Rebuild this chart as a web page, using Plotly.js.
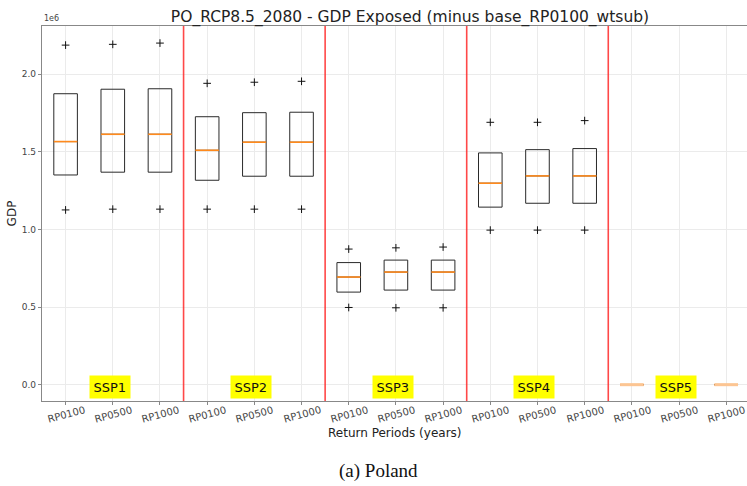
<!DOCTYPE html>
<html>
<head>
<meta charset="utf-8">
<script src="https://cdn.plot.ly/plotly-3.0.1.min.js"></script>
<style>html,body{margin:0;padding:0;background:#fff;}#chart{width:747px;height:486px;}</style>
</head>
<body>
<div id="chart"></div>
<script>
// ---- data (values in units of 1e6) ----
const scenarios = ["SSP1", "SSP2", "SSP3", "SSP4", "SSP5"];
const periods = ["RP0100", "RP0500", "RP1000"];
const q1Vals     = [1.350, 1.368, 1.368, 1.316, 1.342, 1.342, 0.596, 0.609, 0.609, 1.143, 1.168, 1.168, 0, 0, 0];
const medianVals = [1.565, 1.612, 1.612, 1.509, 1.561, 1.561, 0.693, 0.725, 0.725, 1.297, 1.344, 1.344, 0, 0, 0];
const q3Vals     = [1.873, 1.902, 1.905, 1.725, 1.751, 1.754, 0.786, 0.802, 0.802, 1.492, 1.513, 1.520, 0, 0, 0];
const highFliers = [2.186, 2.191, 2.199, 1.940, 1.947, 1.953, 0.873, 0.881, 0.886, 1.689, 1.689, 1.700, null, null, null];
const lowFliers  = [1.125, 1.130, 1.130, 1.130, 1.130, 1.130, 0.497, 0.495, 0.495, 0.995, 0.995, 0.995, null, null, null];

const SCALE = 1e6;
const boxWidth = 0.5;
const pos = [], tickText = [];
scenarios.forEach((s, si) => periods.forEach((p, pi) => { pos.push(si * periods.length + pi); tickText.push(p); }));

const sc = a => a.map(v => v === null ? null : v * SCALE);

const boxTrace = {
  type: "box", x: pos,
  q1: sc(q1Vals), median: sc(medianVals), q3: sc(q3Vals),
  lowerfence: sc(q1Vals), upperfence: sc(q3Vals),
  width: boxWidth, whiskerwidth: 0,
  line: {color: "#2a2a2a", width: 1}, fillcolor: "rgba(0,0,0,0)",
  boxpoints: false, hoverinfo: "skip", showlegend: false
};

const medX = [], medY = [];
pos.forEach((x, i) => { medX.push(x - boxWidth / 2, x + boxWidth / 2, null); medY.push(medianVals[i] * SCALE, medianVals[i] * SCALE, null); });
const medTrace = {
  type: "scatter", mode: "lines", x: medX, y: medY,
  line: {color: "#ff8a1c", width: 1.6}, hoverinfo: "skip", showlegend: false
};
// zero-height boxes (SSP5) appear lighter
const zX = [], zY = [];
pos.forEach((x, i) => { if (q3Vals[i] === 0 && q1Vals[i] === 0) { zX.push(x - boxWidth / 2, x + boxWidth / 2, null); zY.push(0, 0, null); } });
const zeroTrace = {
  type: "scatter", mode: "lines", x: zX, y: zY,
  line: {color: "#fcc593", width: 3}, hoverinfo: "skip", showlegend: false
};

const flierX = [], flierY = [];
pos.forEach((x, i) => {
  if (highFliers[i] !== null) { flierX.push(x); flierY.push(highFliers[i] * SCALE); }
  if (lowFliers[i] !== null) { flierX.push(x); flierY.push(lowFliers[i] * SCALE); }
});
const flierTrace = {
  type: "scatter", mode: "markers", x: flierX, y: flierY,
  marker: {symbol: "cross-thin", size: 5.5, line: {color: "#111", width: 1}, color: "#111"},
  hoverinfo: "skip", showlegend: false
};

const n = periods.length;
const shapes = [];
for (let s = 1; s < scenarios.length; s++) {
  shapes.push({type: "line", xref: "x", yref: "paper", x0: s * n - 0.5, x1: s * n - 0.5, y0: 0, y1: 1,
    line: {color: "rgba(255,40,40,0.85)", width: 1.6}});
}

const annotations = scenarios.map((s, si) => ({
  x: si * n + (n - 1) / 2, y: 0, xref: "x", yref: "y", text: s, showarrow: false,
  xshift: -3, yshift: -2,
  bgcolor: "#ffff00", borderpad: 3.5, font: {family: "DejaVu Sans", size: 13, color: "#111"}
}));
// centered, rotated tick labels
pos.forEach((x, i) => annotations.push({
  x: x, xref: "x", y: 0, yref: "paper", yanchor: "middle", xanchor: "center", yshift: -13,
  text: tickText[i], textangle: -15, showarrow: false,
  font: {family: "DejaVu Sans", size: 10, color: "#444"}
}));
annotations.push({xref: "paper", yref: "paper", x: 0.5, y: 0, yshift: -32, xanchor: "center", yanchor: "middle",
  text: "Return Periods (years)", showarrow: false, font: {family: "DejaVu Sans", size: 12, color: "#222"}});
annotations.push({xref: "paper", yref: "paper", x: 0, y: 1, xanchor: "left", yanchor: "bottom", yshift: 1,
  text: "1e6", showarrow: false, font: {family: "DejaVu Sans", size: 8, color: "#444"}});
annotations.push({xref: "paper", yref: "paper", x: (378 - 42) / 705, y: 0, yshift: -70, xanchor: "center", yanchor: "middle",
  text: "(a) Poland", showarrow: false, font: {family: "Liberation Serif", size: 19, color: "#111"}});

const layout = {
  width: 747, height: 486,
  margin: {l: 42, r: 0, t: 26, b: 85},
  paper_bgcolor: "#fff", plot_bgcolor: "#fff",
  title: {text: "PO_RCP8.5_2080 - GDP Exposed (minus base_RP0100_wtsub)",
    x: 410 / 747, xref: "container", xanchor: "center", y: 1 - 17 / 486, yref: "container", yanchor: "middle",
    font: {family: "DejaVu Sans", size: 15.5, color: "#222"}},
  xaxis: {
    range: [-0.5, 14.44], tickmode: "array", tickvals: pos, showticklabels: false,
    showgrid: true, gridcolor: "#ebebeb", gridwidth: 1, zeroline: false,
    showline: true, linecolor: "#888", linewidth: 1.2, mirror: true,
    ticks: "outside", ticklen: 3, tickcolor: "#888"
  },
  yaxis: {
    range: [-0.105 * SCALE, 2.309 * SCALE], tickmode: "array",
    tickvals: [0, 0.5e6, 1e6, 1.5e6, 2e6], ticktext: ["0.0", "0.5", "1.0", "1.5", "2.0"],
    showgrid: true, gridcolor: "#ebebeb", gridwidth: 1, zeroline: false,
    showline: true, linecolor: "#888", linewidth: 1.2,
    ticks: "outside", ticklen: 3, tickcolor: "#888",
    tickfont: {family: "DejaVu Sans", size: 9, color: "#444"},
    title: {text: "GDP", standoff: 2, font: {family: "DejaVu Sans", size: 12, color: "#222"}}
  },
  shapes: shapes, annotations: annotations, showlegend: false
};

Plotly.newPlot("chart", [boxTrace, medTrace, zeroTrace, flierTrace], layout, {displayModeBar: false, staticPlot: true});
</script>
</body>
</html>
